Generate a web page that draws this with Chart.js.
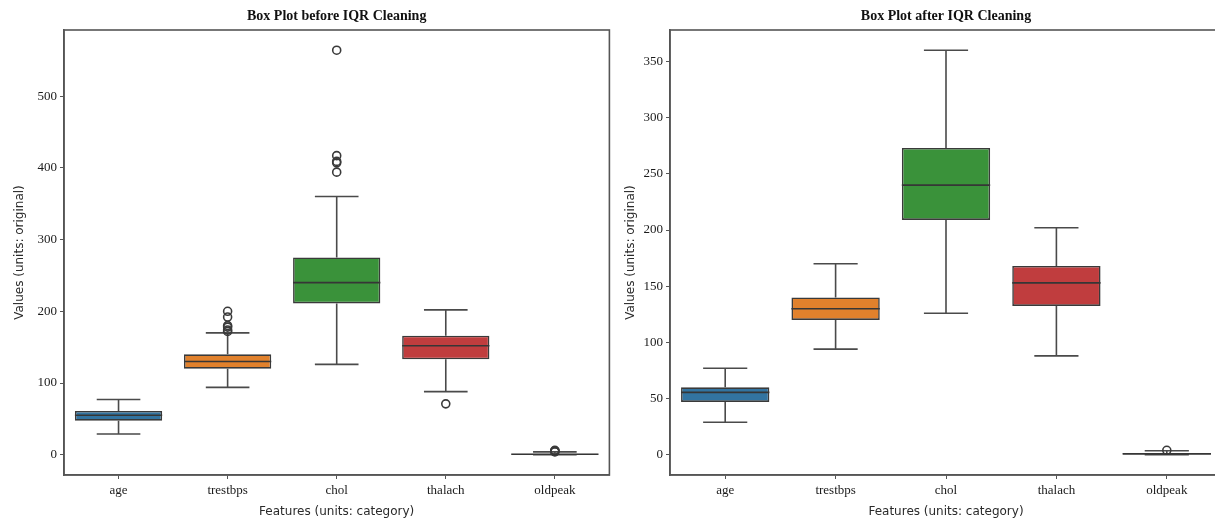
<!DOCTYPE html>
<html>
<head>
<meta charset="utf-8">
<title>Box plots</title>
<script src="https://cdn.jsdelivr.net/npm/chart.js@4.4.1/dist/chart.umd.min.js"></script>
<style>
  html, body { margin: 0; padding: 0; background: #fff; overflow: hidden; }
  #wrap { position: relative; width: 1215px; height: 519px; }
  .pane { position: absolute; top: 0; }
  #left { left: 0; }
  #right { left: 615px; }
</style>
</head>
<body>
<div id="wrap">
  <div class="pane" id="left"><canvas id="before" width="615" height="519"></canvas></div>
  <div class="pane" id="right"><canvas id="after" width="620" height="519"></canvas></div>
</div>
<script>
const features = ['age', 'trestbps', 'chol', 'thalach', 'oldpeak'];
const boxColors = ['#3274a1', '#e1812c', '#3a923a', '#c03d3e', '#9372b2'];

// before IQR cleaning
const beforeMin = [29, 94, 126, 88, 0];
const beforeQ1 = [47.5, 120, 211, 133, 0];
const beforeMedian = [55, 130, 240, 152, 0.8];
const beforeQ3 = [61, 140, 275, 166, 1.6];
const beforeMax = [77, 170, 360, 202, 4];
const beforeOutliers = [[], [172, 174, 178, 180, 192, 200], [394, 407, 409, 417, 564], [71], [4.2, 4.4, 5.6, 6.2]];
const beforeTicks = [0, 100, 200, 300, 400, 500];

// after IQR cleaning
const afterMin = [29, 94, 126, 88, 0];
const afterQ1 = [47, 120, 209, 132.5, 0];
const afterMedian = [55.5, 130, 240, 153, 0.8];
const afterQ3 = [60, 140, 273, 168, 1.5];
const afterMax = [77, 170, 360, 202, 3.6];
const afterOutliers = [[], [], [], [], [4]];
const afterTicks = [0, 50, 100, 150, 200, 250, 300, 350];

const serif = 'Liberation Serif';
const sans = 'DejaVu Sans';
const lineGrey = '#4a4a4a';

// whiskers under the boxes, medians on top
const boxWhiskers = {
  id: 'boxWhiskers',
  beforeDatasetsDraw(chart, args, opts) {
    const ctx = chart.ctx;
    const y = chart.scales.y;
    const bars = chart.getDatasetMeta(0).data;
    ctx.save();
    ctx.strokeStyle = lineGrey;
    ctx.lineWidth = 1.6;
    bars.forEach((bar, i) => {
      const cap = bar.width / 4;
      [[opts.q3[i], opts.hi[i]], [opts.q1[i], opts.lo[i]]].forEach(([from, to]) => {
        const y0 = y.getPixelForValue(from);
        const y1 = y.getPixelForValue(to);
        ctx.beginPath();
        ctx.moveTo(bar.x, y0);
        ctx.lineTo(bar.x, y1);
        ctx.moveTo(bar.x - cap, y1);
        ctx.lineTo(bar.x + cap, y1);
        ctx.stroke();
      });
    });
    ctx.restore();
  },
  afterDatasetsDraw(chart, args, opts) {
    const ctx = chart.ctx;
    const y = chart.scales.y;
    const bars = chart.getDatasetMeta(0).data;
    ctx.save();
    ctx.strokeStyle = '#363636';
    ctx.lineWidth = 1.6;
    bars.forEach((bar, i) => {
      const ym = y.getPixelForValue(opts.med[i]);
      ctx.beginPath();
      ctx.moveTo(bar.x - bar.width / 2, ym);
      ctx.lineTo(bar.x + bar.width / 2, ym);
      ctx.stroke();
    });
    // frame round the plot area
    const a = chart.chartArea;
    ctx.strokeStyle = '#555';
    ctx.lineWidth = 1.6;
    ctx.strokeRect(a.left, a.top, a.right - a.left, a.bottom - a.top);
    ctx.restore();
  }
};

function makeBoxPlot(canvasId, title, lo, q1, med, q3, hi, outliers, ticks, yMin, yMax, padLeft, axisWidth, padRight) {
  const fliers = [];
  outliers.forEach((list, i) => list.forEach(v => fliers.push({ x: features[i], y: v })));

  return new Chart(document.getElementById(canvasId), {
    type: 'bar',
    data: {
      labels: features,
      datasets: [
        {
          data: q1.map((v, i) => [v, q3[i]]),
          backgroundColor: boxColors,
          borderColor: '#3a3a3a',
          borderWidth: 1.6,
          borderSkipped: false,
          barPercentage: 0.8,
          categoryPercentage: 1.0
        },
        {
          type: 'line',
          data: fliers,
          showLine: false,
          pointStyle: 'circle',
          pointRadius: 4,
          pointBorderWidth: 1.6,
          pointBorderColor: '#3a3a3a',
          pointBackgroundColor: 'rgba(0,0,0,0)'
        }
      ]
    },
    options: {
      responsive: false,
      animation: false,
      layout: { padding: { left: padLeft, right: padRight, top: 0, bottom: 0 } },
      plugins: {
        legend: { display: false },
        tooltip: { enabled: false },
        title: {
          display: true,
          text: title,
          fullSize: false,
          color: '#111',
          font: { family: serif, size: 14, weight: 'bold', lineHeight: 1.0 },
          padding: { top: 9, bottom: 7 }
        },
        boxWhiskers: { lo: lo, q1: q1, med: med, q3: q3, hi: hi }
      },
      scales: {
        x: {
          grid: { display: true, offset: false, drawOnChartArea: false, drawTicks: true, tickLength: 4, color: '#555' },
          border: { display: true, color: '#555', width: 1.6 },
          ticks: { color: '#1a1a1a', padding: 4, font: { family: serif, size: 13 } },
          title: {
            display: true,
            text: 'Features (units: category)',
            color: '#2a2a2a',
            font: { family: sans, size: 12 },
            padding: { top: 0, bottom: 0 }
          },
          afterFit(scale) { scale.height = 44; }
        },
        y: {
          min: yMin,
          max: yMax,
          afterBuildTicks(scale) { scale.ticks = ticks.map(v => ({ value: v })); },
          grid: { display: true, drawOnChartArea: false, drawTicks: true, tickLength: 4, color: '#555' },
          border: { display: true, color: '#555', width: 1.6 },
          ticks: { color: '#1a1a1a', padding: 3, font: { family: serif, size: 13 } },
          title: {
            display: true,
            text: 'Values (units: original)',
            color: '#2a2a2a',
            font: { family: sans, size: 12 },
            padding: { top: 0, bottom: 4 }
          },
          afterFit(scale) { scale.width = axisWidth; }
        }
      }
    },
    plugins: [boxWhiskers]
  });
}

makeBoxPlot('before', 'Box Plot before IQR Cleaning',
  beforeMin, beforeQ1, beforeMedian, beforeQ3, beforeMax, beforeOutliers,
  beforeTicks, -28.2, 592.2, 13, 51, 0);

makeBoxPlot('after', 'Box Plot after IQR Cleaning',
  afterMin, afterQ1, afterMedian, afterQ3, afterMax, afterOutliers,
  afterTicks, -18, 378, 9, 46, 13);
</script>
</body>
</html>
